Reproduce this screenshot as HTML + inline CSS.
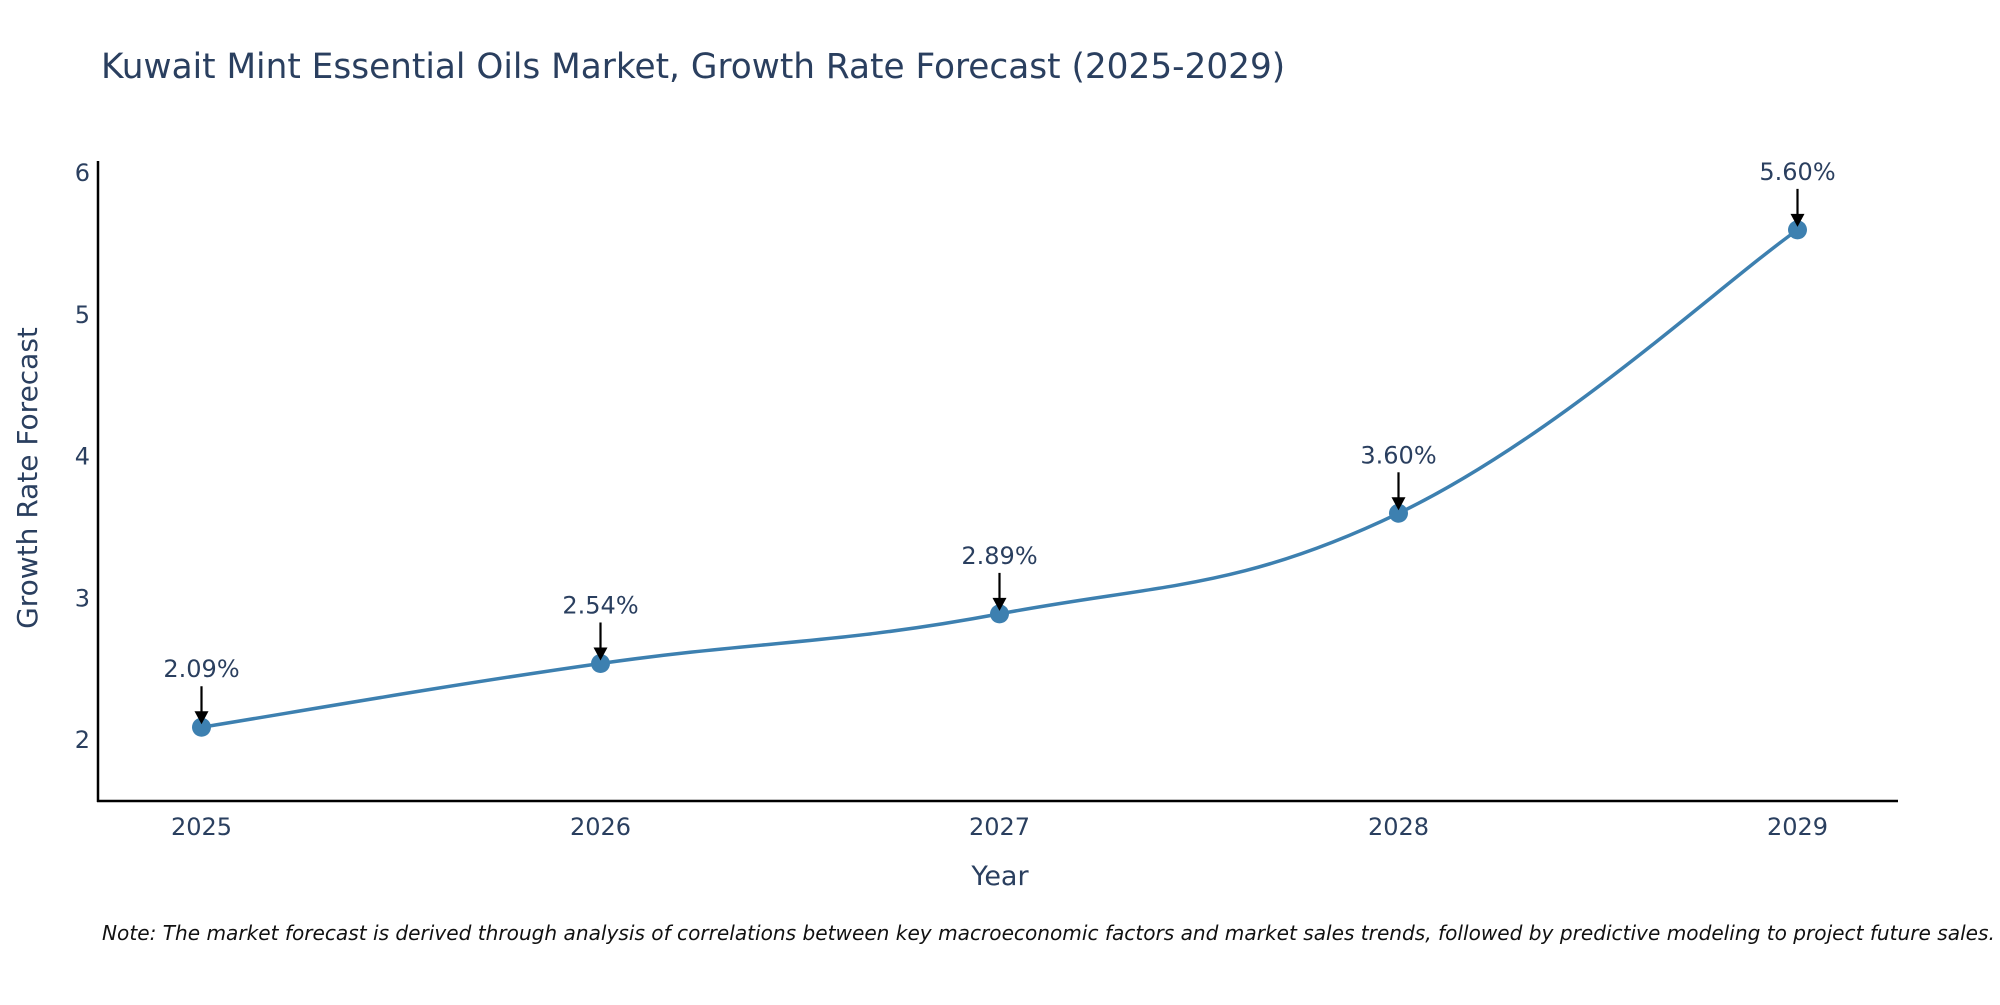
<!DOCTYPE html>
<html><head><meta charset="utf-8"><style>
body{margin:0;background:#fff;}
svg text{font-family:"DejaVu Sans","Liberation Sans",sans-serif;fill:#2a3f5f;}
</style></head><body>
<svg id="chart" width="2000" height="1000" xmlns="http://www.w3.org/2000/svg">
<text x="101" y="78" font-size="34.3">Kuwait Mint Essential Oils Market, Growth Rate Forecast (2025-2029)</text>
<g id="yticks"></g>
<g id="xticks"></g>
<line x1="98" y1="161" x2="98" y2="802" stroke="#000" stroke-width="2.5"/>
<line x1="97" y1="801" x2="1898" y2="801" stroke="#000" stroke-width="2.5"/>
<path id="line" fill="none" stroke="#3d80b0" stroke-width="3.5"/>
<g id="marks"></g>
<text x="1000" y="885" font-size="27" text-anchor="middle">Year</text>
<text transform="translate(37,478) rotate(-90)" font-size="28" text-anchor="middle">Growth Rate Forecast</text>
<text x="102" y="940" font-size="20.1" font-style="italic" style="fill:#111">Note: The market forecast is derived through analysis of correlations between key macroeconomic factors and market sales trends, followed by predictive modeling to project future sales.</text>
</svg>
<script>
const years=[2025,2026,2027,2028,2029];
const values=[2.09,2.54,2.89,3.60,5.60];
const labels=["2.09%","2.54%","2.89%","3.60%","5.60%"];
const yTickVals=[2,3,4,5,6];
const NS="http://www.w3.org/2000/svg";
function xs(v){return 201.5+(v-2025)*399;}
function ys(v){return 740-(v-2)*141.7;}
const yt=document.getElementById('yticks');
yTickVals.forEach(v=>{const t=document.createElementNS(NS,'text');
t.setAttribute('x',90);t.setAttribute('y',ys(v)+8);t.setAttribute('font-size',24);t.setAttribute('text-anchor','end');t.textContent=v;


yt.appendChild(t);});
const xt=document.getElementById('xticks');
years.forEach(v=>{const t=document.createElementNS(NS,'text');
t.setAttribute('x',xs(v));t.setAttribute('y',835);t.setAttribute('font-size',24);t.setAttribute('text-anchor','middle');t.textContent=v;


xt.appendChild(t);});
const pts=years.map((y,i)=>[xs(y),ys(values[i])]);
let d='M'+pts[0][0]+','+pts[0][1];
const k=0.2;
for(let i=0;i<pts.length-1;i++){
const p0=pts[Math.max(0,i-1)],p1=pts[i],p2=pts[i+1],p3=pts[Math.min(pts.length-1,i+2)];
const c1=[p1[0]+(p2[0]-p0[0])*k,p1[1]+(p2[1]-p0[1])*k];
const c2=[p2[0]-(p3[0]-p1[0])*k,p2[1]-(p3[1]-p1[1])*k];
d+=' C'+c1+' '+c2+' '+p2;}
document.getElementById('line').setAttribute('d',d);
const mk=document.getElementById('marks');
pts.forEach((p,i)=>{
const c=document.createElementNS(NS,'circle');c.setAttribute('cx',p[0]);c.setAttribute('cy',p[1]);c.setAttribute('r',9.5);c.setAttribute('fill','#3d80b0');


mk.appendChild(c);
const l=document.createElementNS(NS,'line');l.setAttribute('x1',p[0]);l.setAttribute('x2',p[0]);l.setAttribute('y1',p[1]-41);l.setAttribute('y2',p[1]-14);l.setAttribute('stroke','#000');l.setAttribute('stroke-width',2.2);


mk.appendChild(l);
const h=document.createElementNS(NS,'polygon');h.setAttribute('points',(p[0]-7)+','+(p[1]-16)+' '+(p[0]+7)+','+(p[1]-16)+' '+p[0]+','+(p[1]-3));h.setAttribute('fill','#000');


mk.appendChild(h);
const t=document.createElementNS(NS,'text');t.setAttribute('x',p[0]);t.setAttribute('y',p[1]-50);t.setAttribute('font-size',24);t.setAttribute('text-anchor','middle');t.textContent=labels[i];


mk.appendChild(t);
});
</script>
</body></html>
